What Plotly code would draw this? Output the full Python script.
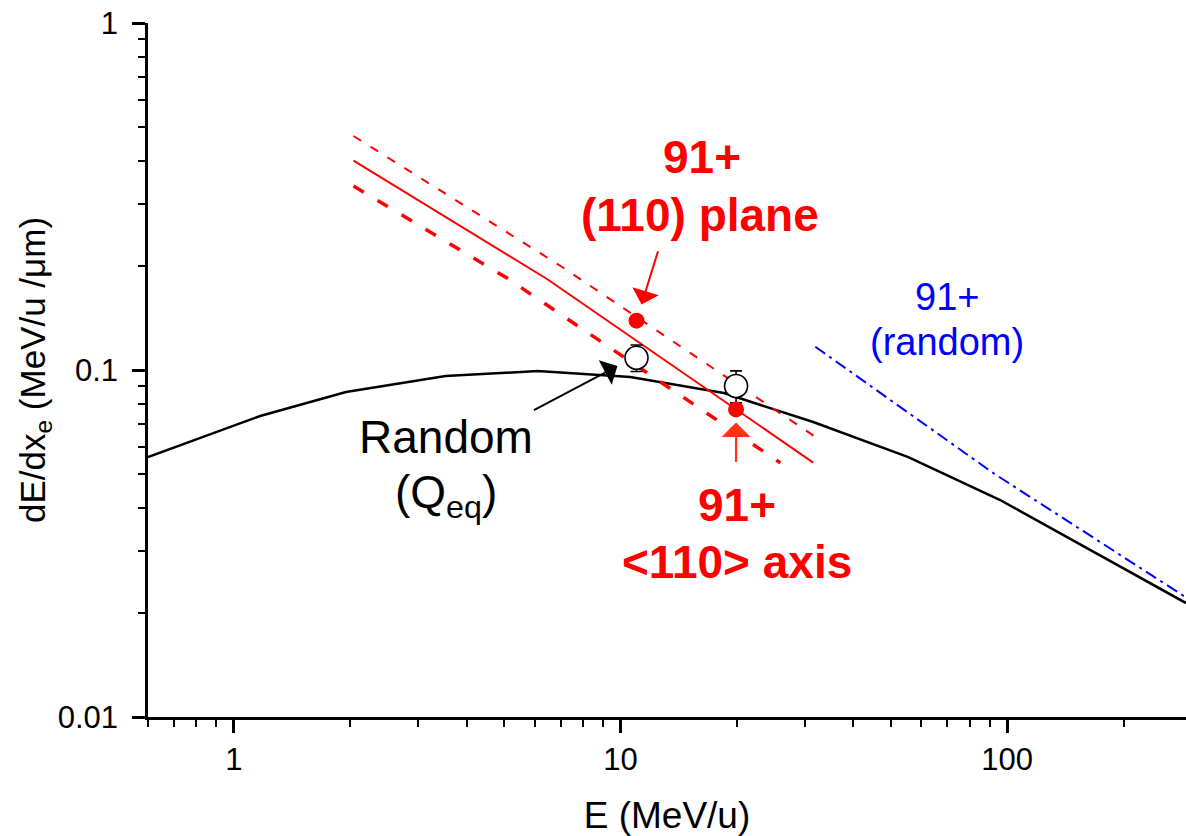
import numpy as np
import plotly.graph_objects as go

FONT = "Liberation Sans, Arial, sans-serif"

# ---- data ----
# Random (Q_eq) electronic stopping curve
random_E = [0.6, 1.17, 1.95, 3.53, 6.1, 10.6, 18.5, 31.5, 55.5, 95.9, 290]
random_S = [0.0561, 0.0737, 0.0864, 0.0961, 0.0993, 0.0955, 0.0858, 0.0708, 0.0561, 0.0422, 0.0213]

# 91+ channeling curves (red)
plane_E = [2.04, 7.0, 31.9]          # thin dashed (upper)
plane_S = [0.4725, 0.1994, 0.0642]
mid_E = [2.04, 6.47, 31.5]           # solid
mid_S = [0.401, 0.1826, 0.0541]
axis_E = [2.04, 5.1, 25.9]           # thick dashed (lower)
axis_S = [0.339, 0.1837, 0.054]

# 91+ random (blue dash-dot)
blue_E = [31.9, 92.2, 288.4]
blue_S = [0.1167, 0.0504, 0.0222]

# measured points
exp_plane_E = [11.0]
exp_plane_S = [0.1387]
exp_axis_E = [19.9]
exp_axis_S = [0.0770]
exp_rand_E = [11.0, 19.9]
exp_rand_S = [0.1085, 0.0899]
exp_rand_err = [0.0095, 0.0095]

x_major = [1, 10, 100]
x_major_text = ["1", "10", "100"]
x_minor = [0.6, 0.7, 0.8, 0.9, 2, 3, 4, 5, 6, 7, 8, 9, 20, 30, 40, 50, 60, 70, 80, 90, 200]
y_major = [0.01, 0.1, 1]
y_major_text = ["0.01", "0.1", "1"]
y_minor = [0.02, 0.03, 0.04, 0.05, 0.06, 0.07, 0.08, 0.09, 0.2, 0.3, 0.4, 0.5, 0.6, 0.7, 0.8, 0.9]

fig = go.Figure()

fig.add_trace(go.Scatter(x=random_E, y=random_S, mode="lines",
                         line=dict(color="black", width=2.5)))
fig.add_trace(go.Scatter(x=blue_E, y=blue_S, mode="lines",
                         line=dict(color="#0000ff", width=2, dash="12px,5px,3px,5px")))
fig.add_trace(go.Scatter(x=plane_E, y=plane_S, mode="lines",
                         line=dict(color="#ff0000", width=2, dash="9px,11px")))
fig.add_trace(go.Scatter(x=mid_E, y=mid_S, mode="lines",
                         line=dict(color="#ff0000", width=2)))
fig.add_trace(go.Scatter(x=axis_E, y=axis_S, mode="lines",
                         line=dict(color="#ff0000", width=3.5, dash="12px,16px")))

fig.add_trace(go.Scatter(x=exp_rand_E, y=exp_rand_S, mode="markers",
                         marker=dict(symbol="circle", size=23, color="white",
                                     line=dict(width=1.6, color="black")),
                         error_y=dict(type="data", array=exp_rand_err, visible=True,
                                      color="black", thickness=1.6, width=6)))
fig.add_trace(go.Scatter(x=exp_plane_E, y=exp_plane_S, mode="markers",
                         marker=dict(symbol="circle", size=16, color="#ff0000")))
fig.add_trace(go.Scatter(x=exp_axis_E, y=exp_axis_S, mode="markers",
                         marker=dict(symbol="circle", size=16, color="#ff0000")))

annotations = [
    # red (110) plane label
    dict(x=np.log10(16.2), y=np.log10(0.411), text="<b>91+</b>", showarrow=False,
         font=dict(size=46, color="#ff0000", family=FONT)),
    dict(x=np.log10(16.1), y=np.log10(0.2797), text="<b>(110) plane</b>", showarrow=False,
         font=dict(size=46, color="#ff0000", family=FONT)),
    # red <110> axis label
    dict(x=np.log10(20.06), y=np.log10(0.0408), text="<b>91+</b>", showarrow=False,
         font=dict(size=46, color="#ff0000", family=FONT)),
    dict(x=np.log10(20.06), y=np.log10(0.02797), text="<b>&lt;110&gt; axis</b>", showarrow=False,
         font=dict(size=46, color="#ff0000", family=FONT)),
    # blue label
    dict(x=np.log10(70), y=np.log10(0.1623), text="91+", showarrow=False,
         font=dict(size=38, color="#0000ff", family=FONT)),
    dict(x=np.log10(70), y=np.log10(0.1204), text="(random)", showarrow=False,
         font=dict(size=38, color="#0000ff", family=FONT)),
    # black label
    dict(x=np.log10(3.53), y=np.log10(0.0641), text="Random", showarrow=False,
         font=dict(size=46, color="black", family=FONT)),
    dict(x=np.log10(3.53), y=np.log10(0.0436), text="(Q<sub>eq</sub>)", showarrow=False,
         font=dict(size=46, color="black", family=FONT)),
    # arrows
    dict(x=np.log10(exp_plane_E[0]), y=np.log10(exp_plane_S[0]), ax=22, ay=-71,
         text="", showarrow=True, arrowhead=1, arrowsize=2.3, arrowwidth=2,
         arrowcolor="#ff0000", standoff=17),
    dict(x=np.log10(exp_axis_E[0]), y=np.log10(exp_axis_S[0]), ax=0, ay=54,
         text="", showarrow=True, arrowhead=1, arrowsize=2.2, arrowwidth=2.2,
         arrowcolor="#ff3311", standoff=13),
    dict(x=np.log10(9.82), y=np.log10(0.1027), ax=-85, ay=45,
         text="", showarrow=True, arrowhead=1, arrowsize=2.3, arrowwidth=2,
         arrowcolor="black", standoff=0),
]

fig.update_layout(
    width=1186, height=836,
    margin=dict(l=148, r=0, t=23, b=119),
    plot_bgcolor="white", paper_bgcolor="white",
    showlegend=False,
    font=dict(family=FONT, color="black"),
    annotations=annotations,
)

fig.update_xaxes(
    type="log", range=[np.log10(0.6), np.log10(290)],
    showline=True, linecolor="black", linewidth=2.5, mirror=False,
    showgrid=False, zeroline=False,
    ticks="outside", ticklen=13, tickwidth=2.5, tickcolor="black",
    tickmode="array", tickvals=x_major, ticktext=x_major_text,
    tickfont=dict(size=31, family=FONT, color="black"),
    ticklabelstandoff=0,
    minor=dict(tickmode="array", tickvals=x_minor, ticks="outside", ticklen=7,
               tickwidth=2, tickcolor="black", showgrid=False),
    title=dict(text="E (MeV/u)", font=dict(size=37, family=FONT, color="black"), standoff=28),
)
fig.update_yaxes(
    type="log", range=[-2, 0],
    showline=True, linecolor="black", linewidth=2.5, mirror=False,
    showgrid=False, zeroline=False,
    ticks="outside", ticklen=13, tickwidth=2.5, tickcolor="black",
    tickmode="array", tickvals=y_major, ticktext=y_major_text,
    tickfont=dict(size=31, family=FONT, color="black"),
    ticklabelstandoff=8,
    minor=dict(tickmode="array", tickvals=y_minor, ticks="outside", ticklen=7,
               tickwidth=2, tickcolor="black", showgrid=False),
    title=dict(text="dE/dx<sub>e</sub> (MeV/u /\u03bcm)", font=dict(size=35, family=FONT, color="black"),
               standoff=2),
)

fig.write_html("out.html")
